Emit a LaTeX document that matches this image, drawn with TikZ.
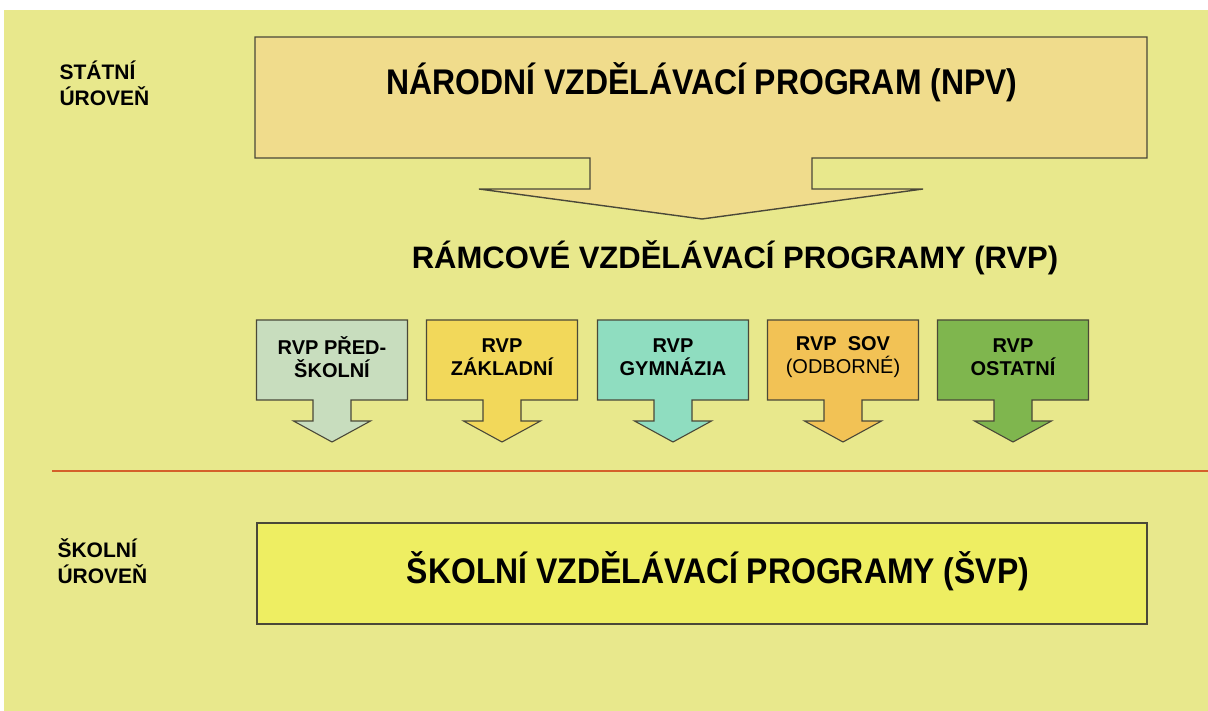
\documentclass[tikz,border=0pt]{standalone}
\usepackage{fontspec}
\setmainfont{Liberation Sans}
\usepackage{tikz}
\usetikzlibrary{calc}

\definecolor{bgyellow}{HTML}{E8E88C}
\definecolor{npvfill}{HTML}{F0DC8C}
\definecolor{svpfill}{HTML}{EEEE62}
\definecolor{edgegray}{HTML}{4A4838}
\definecolor{splitred}{HTML}{D4602A}
\definecolor{rvpa}{HTML}{C8DDBE}
\definecolor{rvpb}{HTML}{F2D85A}
\definecolor{rvpc}{HTML}{8FDDC0}
\definecolor{rvpd}{HTML}{F2C255}
\definecolor{rvpe}{HTML}{7FB64E}

\newcommand{\tallword}[1]{\scalebox{1.03}[1.15]{#1}}

\begin{document}
\begin{tikzpicture}[x=1pt,y=-1pt,
    callout/.style={draw=edgegray,line width=1.1pt,line join=miter},
    bigtitle/.style={font=\fontsize{31}{36}\selectfont\bfseries,anchor=center},
    leveltext/.style={font=\fontsize{21}{26}\selectfont\bfseries,align=left,anchor=north west},
    rvptext/.style={font=\fontsize{20}{23}\selectfont\bfseries,align=center,anchor=center}]
  \useasboundingbox (0,0) rectangle (1208,711);
  % page and slide background
  \fill[white] (0,0) rectangle (1208,711);
  \fill[bgyellow] (4,10) rectangle (1208,711);
  % state level labels
  \node[leveltext] (statni) at (56,57) {STÁTNÍ\\ÚROVEŇ};
  % national programme, box with arrow
  \draw[callout,line width=1.4pt,fill=npvfill] (255,37) -- (1147,37) -- (1147,158) -- (812,158) -- (812,189)
    -- (923,189) -- (702,219) -- (479,189) -- (590,189) -- (590,158) -- (255,158) -- cycle;
  \node[bigtitle] (npv) at (702,82) {\tallword{NÁRODNÍ VZDĚLÁVACÍ PROGRAM (NPV)}};
  \node[bigtitle] (rvp) at (735,258) {RÁMCOVÉ VZDĚLÁVACÍ PROGRAMY (RVP)};
  % the five framework programmes
  \foreach \cx/\col/\nm/\txt in {332/rvpa/pred/{RVP PŘED-\\ŠKOLNÍ},
                                 502/rvpb/zakl/{RVP\\ZÁKLADNÍ},
                                 673/rvpc/gymn/{RVP\\GYMNÁZIA},
                                 843/rvpd/odb/{RVP\ \ SOV\\\mdseries(ODBORNÉ)},
                                 1013/rvpe/ost/{RVP\\OSTATNÍ}}{
    \draw[callout,fill=\col] ({\cx-75.5},320) -- ({\cx+75.5},320) -- ({\cx+75.5},400)
      -- ({\cx+19},400) -- ({\cx+19},421) -- ({\cx+38.5},421) -- (\cx,442)
      -- ({\cx-38.5},421) -- ({\cx-19},421) -- ({\cx-19},400) -- ({\cx-75.5},400) -- cycle;
    \node[rvptext] (\nm) at (\cx,357) {\txt};
  }
  % border between the levels
  \draw[splitred,line width=1.2pt] (52,471) -- (1208,471);
  % school level
  \node[leveltext] (skolni) at (54,535) {ŠKOLNÍ\\ÚROVEŇ};
  \node[draw=edgegray,line width=1.4pt,fill=svpfill,minimum width=890pt,minimum height=101pt,
    inner sep=0pt] (svpbox) at (702,573.5) {};
  \node[bigtitle] (svp) at (718,571) {\tallword{ŠKOLNÍ VZDĚLÁVACÍ PROGRAMY (ŠVP)}};
\end{tikzpicture}
\end{document}
